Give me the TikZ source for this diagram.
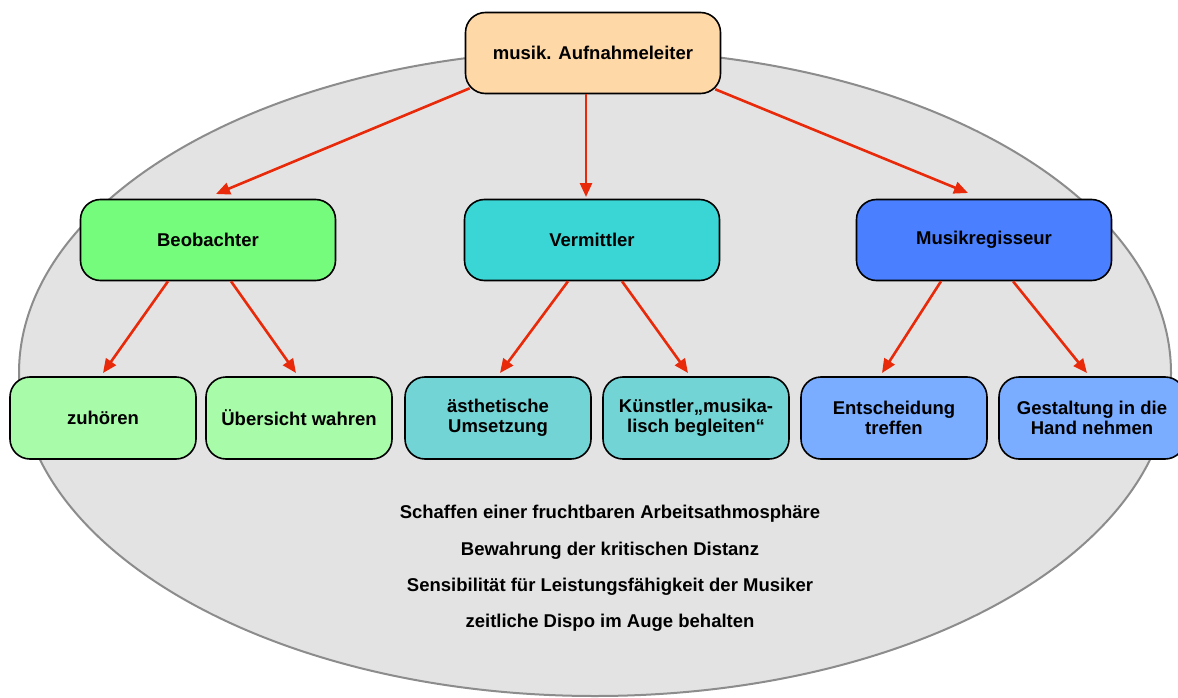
\documentclass[tikz,border=0pt]{standalone}
\usepackage{fontspec}
\setmainfont{Liberation Sans}
\usetikzlibrary{arrows.meta}
\definecolor{peach}{HTML}{FFD8A8}
\definecolor{gA}{HTML}{75FC7C}
\definecolor{gB}{HTML}{A8FBA8}
\definecolor{tA}{HTML}{3AD6D6}
\definecolor{tB}{HTML}{72D4D4}
\definecolor{bA}{HTML}{4A7FFF}
\definecolor{bB}{HTML}{7AACFF}
\definecolor{arr}{HTML}{E82A0A}
\definecolor{ell}{HTML}{E3E3E3}
\definecolor{ellb}{HTML}{8C8C8C}
\tikzset{
  box/.style={draw=black, line width=1.6pt, rounded corners=20pt, align=center,
    font=\bfseries\fontsize{18.5}{19.5}\selectfont, inner sep=0pt},
  bigbox/.style={box, minimum width=255pt, minimum height=81pt},
  smallbox/.style={box, minimum width=186pt, minimum height=82pt},
  link/.style={draw=arr, line width=2.6pt, -{Triangle[length=14pt,width=12pt]}},
  note/.style={font=\bfseries\fontsize{18.5}{20}\selectfont}
}
\begin{document}
\begin{tikzpicture}[x=1pt,y=-1pt]
\useasboundingbox (0,0) rectangle (1178,698);
\fill[white] (0,0) rectangle (1178,698);
\draw[fill=ell, draw=ellb, line width=2pt] (595,373) ellipse [x radius=576, y radius=323];
\node[bigbox, fill=peach] (top) at (593,53) {musik. Aufnahmeleiter};
\node[bigbox, fill=gA] (beo) at (208,240) {Beobachter};
\node[bigbox, fill=tA] (ver) at (592,240) {Vermittler};
\node[bigbox, fill=bA] (mus) at (984,240) {Musikregisseur};
\node[smallbox, fill=gB] (zu) at (103,418) {zuhören};
\node[smallbox, fill=gB] (ueb) at (299,418) {Übersicht wahren};
\node[smallbox, fill=tB] (aes) at (498,418) {ästhetische\\Umsetzung};
\node[smallbox, fill=tB] (kue) at (696,418) {Künstler„musika-\\lisch begleiten“};
\node[smallbox, fill=bB] (ent) at (894,418) {Entscheidung\\treffen};
\node[smallbox, fill=bB] (ges) at (1092,418) {Gestaltung in die\\Hand nehmen};
\coordinate (t1) at (216,194);
\coordinate (t2) at (586,197);
\coordinate (t3) at (968,193);
\draw[link] (top.south west) ++(5,-6) -- (t1);
\draw[link] (top.south -| t2) -- (t2);
\draw[link] (top.south east) ++(-6,-5) -- (t3);
\coordinate (z1) at (103,373);
\coordinate (z2) at (296,373);
\coordinate (z3) at (500,373);
\coordinate (z4) at (688,373);
\coordinate (z5) at (882,373);
\coordinate (z6) at (1087,373);
\draw[link] (beo.south -| 168,0) -- (z1);
\draw[link] (beo.south -| 231,0) -- (z2);
\draw[link] (ver.south -| 568,0) -- (z3);
\draw[link] (ver.south -| 622,0) -- (z4);
\draw[link] (mus.south -| 941,0) -- (z5);
\draw[link] (mus.south -| 1013,0) -- (z6);
\node[note] (n1) at (610,514) {Schaffen einer fruchtbaren Arbeitsathmosphäre};
\node[note] (n2) at (610,551) {Bewahrung der kritischen Distanz};
\node[note] (n3) at (610,587) {Sensibilität für Leistungsfähigkeit der Musiker};
\node[note] (n4) at (610,623) {zeitliche Dispo im Auge behalten};
\end{tikzpicture}
\end{document}
